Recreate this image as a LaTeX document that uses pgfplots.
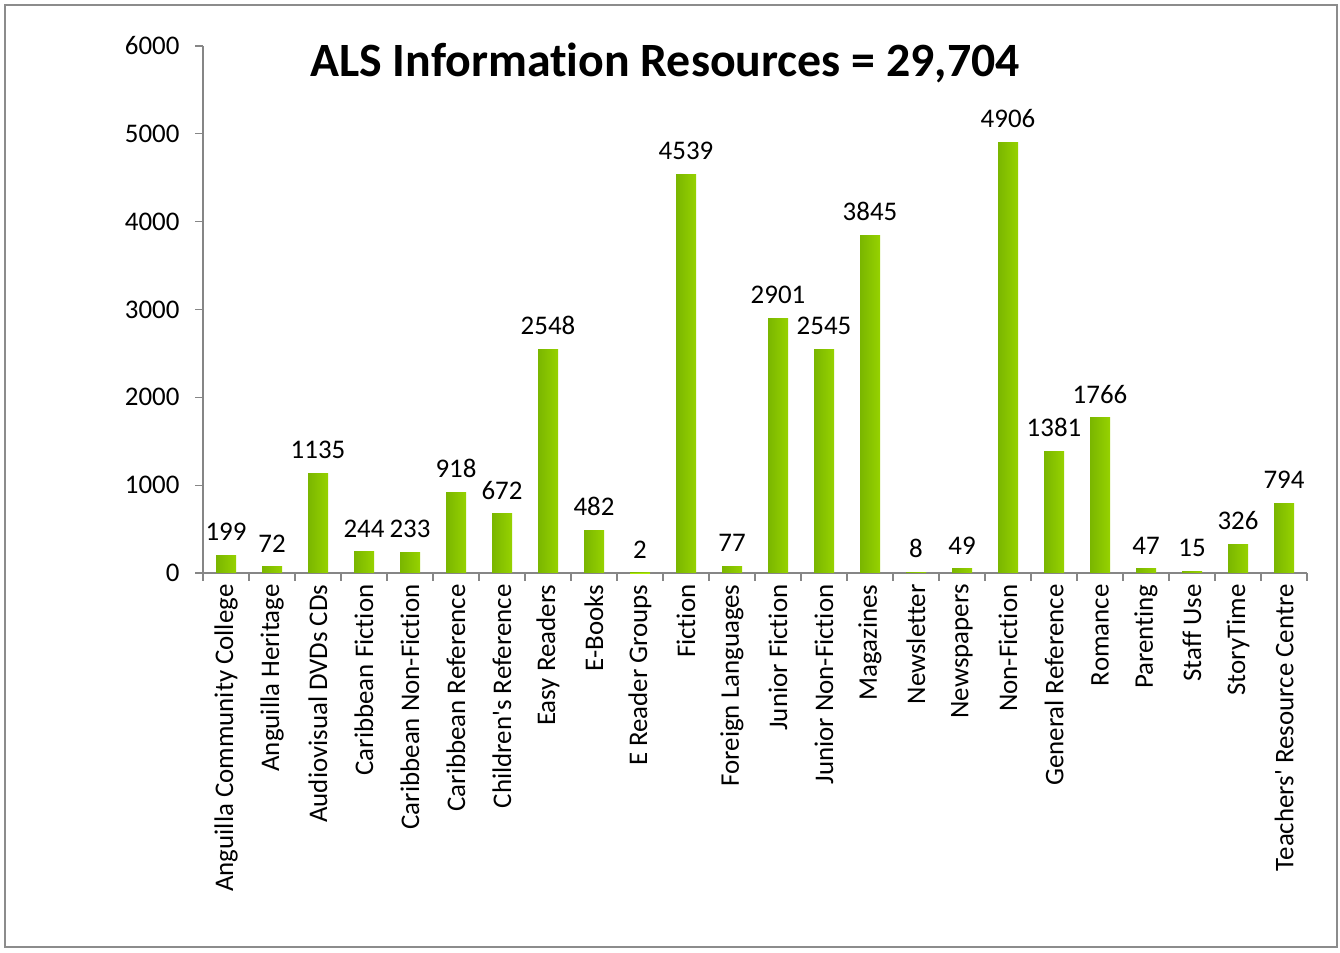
\documentclass[border=0pt]{standalone}
\usepackage{pgfplots}
\pgfplotsset{compat=1.18}
\usepackage{fontspec}
\setmainfont{Carlito}[Ligatures=CommonOff]
\definecolor{axgray}{RGB}{134,134,134}
\definecolor{bordgray}{RGB}{140,140,140}
\definecolor{barL}{RGB}{122,182,0}
\definecolor{barM}{RGB}{174,232,10}
\definecolor{barR}{RGB}{150,210,0}
\pgfplotsset{mybar/.style={draw=none, fill=barM, left color=barL, middle color=barM, right color=barR, bar shift=0pt}}
\begin{document}
\begin{tikzpicture}[x=1bp,y=1bp]
\path[use as bounding box] (0,0) rectangle (1340,952);
\draw[bordgray, line width=2bp] (5,5) rectangle (1337,947);
\begin{axis}[
  at={(203bp,379bp)}, anchor=south west,
  scale only axis, width=1104bp, height=527bp,
  xmin=-0.5, xmax=23.5, ymin=0, ymax=6000,
  axis x line*=bottom, axis y line*=left,
  axis line style={axgray, line width=1.3bp},
  ytick={0,1000,...,6000},
  xtick={0,...,23},
  xticklabels={Anguilla Community College, Anguilla Heritage, Audiovisual DVDs CDs, Caribbean Fiction, Caribbean Non-Fiction, Caribbean Reference, Children\textquotesingle s Reference, Easy Readers, E-Books, E Reader Groups, Fiction, Foreign Languages, Junior Fiction, Junior Non-Fiction, Magazines, Newsletter, Newspapers, Non-Fiction, General Reference, Romance, Parenting, Staff Use, StoryTime, Teachers\textquotesingle{} Resource Centre},
  major x tick style={draw=none},
  minor xtick={-0.5,0.5,...,23.5},
  tick align=outside, major tick length=8bp, minor tick length=8bp,
  tick style={axgray, line width=1.3bp},
  major y tick style={axgray, line width=1.3bp},
  yticklabel style={font=\fontsize{27}{32}\selectfont, black, xshift=-12bp},
  xticklabel style={font=\fontsize{27}{32}\selectfont, black, rotate=90, anchor=east},
  /pgf/number format/.cd, 1000 sep={}, assume math mode=true, /pgfplots/.cd,
  ybar, bar width=20bp,
  nodes near coords,
  every node near coord/.append style={font=\fontsize{27}{32}\selectfont, black, yshift=11bp},
  clip=false,
]
\addplot[mybar] coordinates {(0,199)};
\addplot[mybar] coordinates {(1,72)};
\addplot[mybar] coordinates {(2,1135)};
\addplot[mybar] coordinates {(3,244)};
\addplot[mybar] coordinates {(4,233)};
\addplot[mybar] coordinates {(5,918)};
\addplot[mybar] coordinates {(6,672)};
\addplot[mybar] coordinates {(7,2548)};
\addplot[mybar] coordinates {(8,482)};
\addplot[mybar] coordinates {(9,2)};
\addplot[mybar] coordinates {(10,4539)};
\addplot[mybar] coordinates {(11,77)};
\addplot[mybar] coordinates {(12,2901)};
\addplot[mybar] coordinates {(13,2545)};
\addplot[mybar] coordinates {(14,3845)};
\addplot[mybar] coordinates {(15,8)};
\addplot[mybar] coordinates {(16,49)};
\addplot[mybar] coordinates {(17,4906)};
\addplot[mybar] coordinates {(18,1381)};
\addplot[mybar] coordinates {(19,1766)};
\addplot[mybar] coordinates {(20,47)};
\addplot[mybar] coordinates {(21,15)};
\addplot[mybar] coordinates {(22,326)};
\addplot[mybar] coordinates {(23,794)};
\end{axis}
\node[font=\bfseries\fontsize{48}{56}\selectfont] at (665,889) {ALS Information Resources = 29,704};
\end{tikzpicture}
\end{document}
